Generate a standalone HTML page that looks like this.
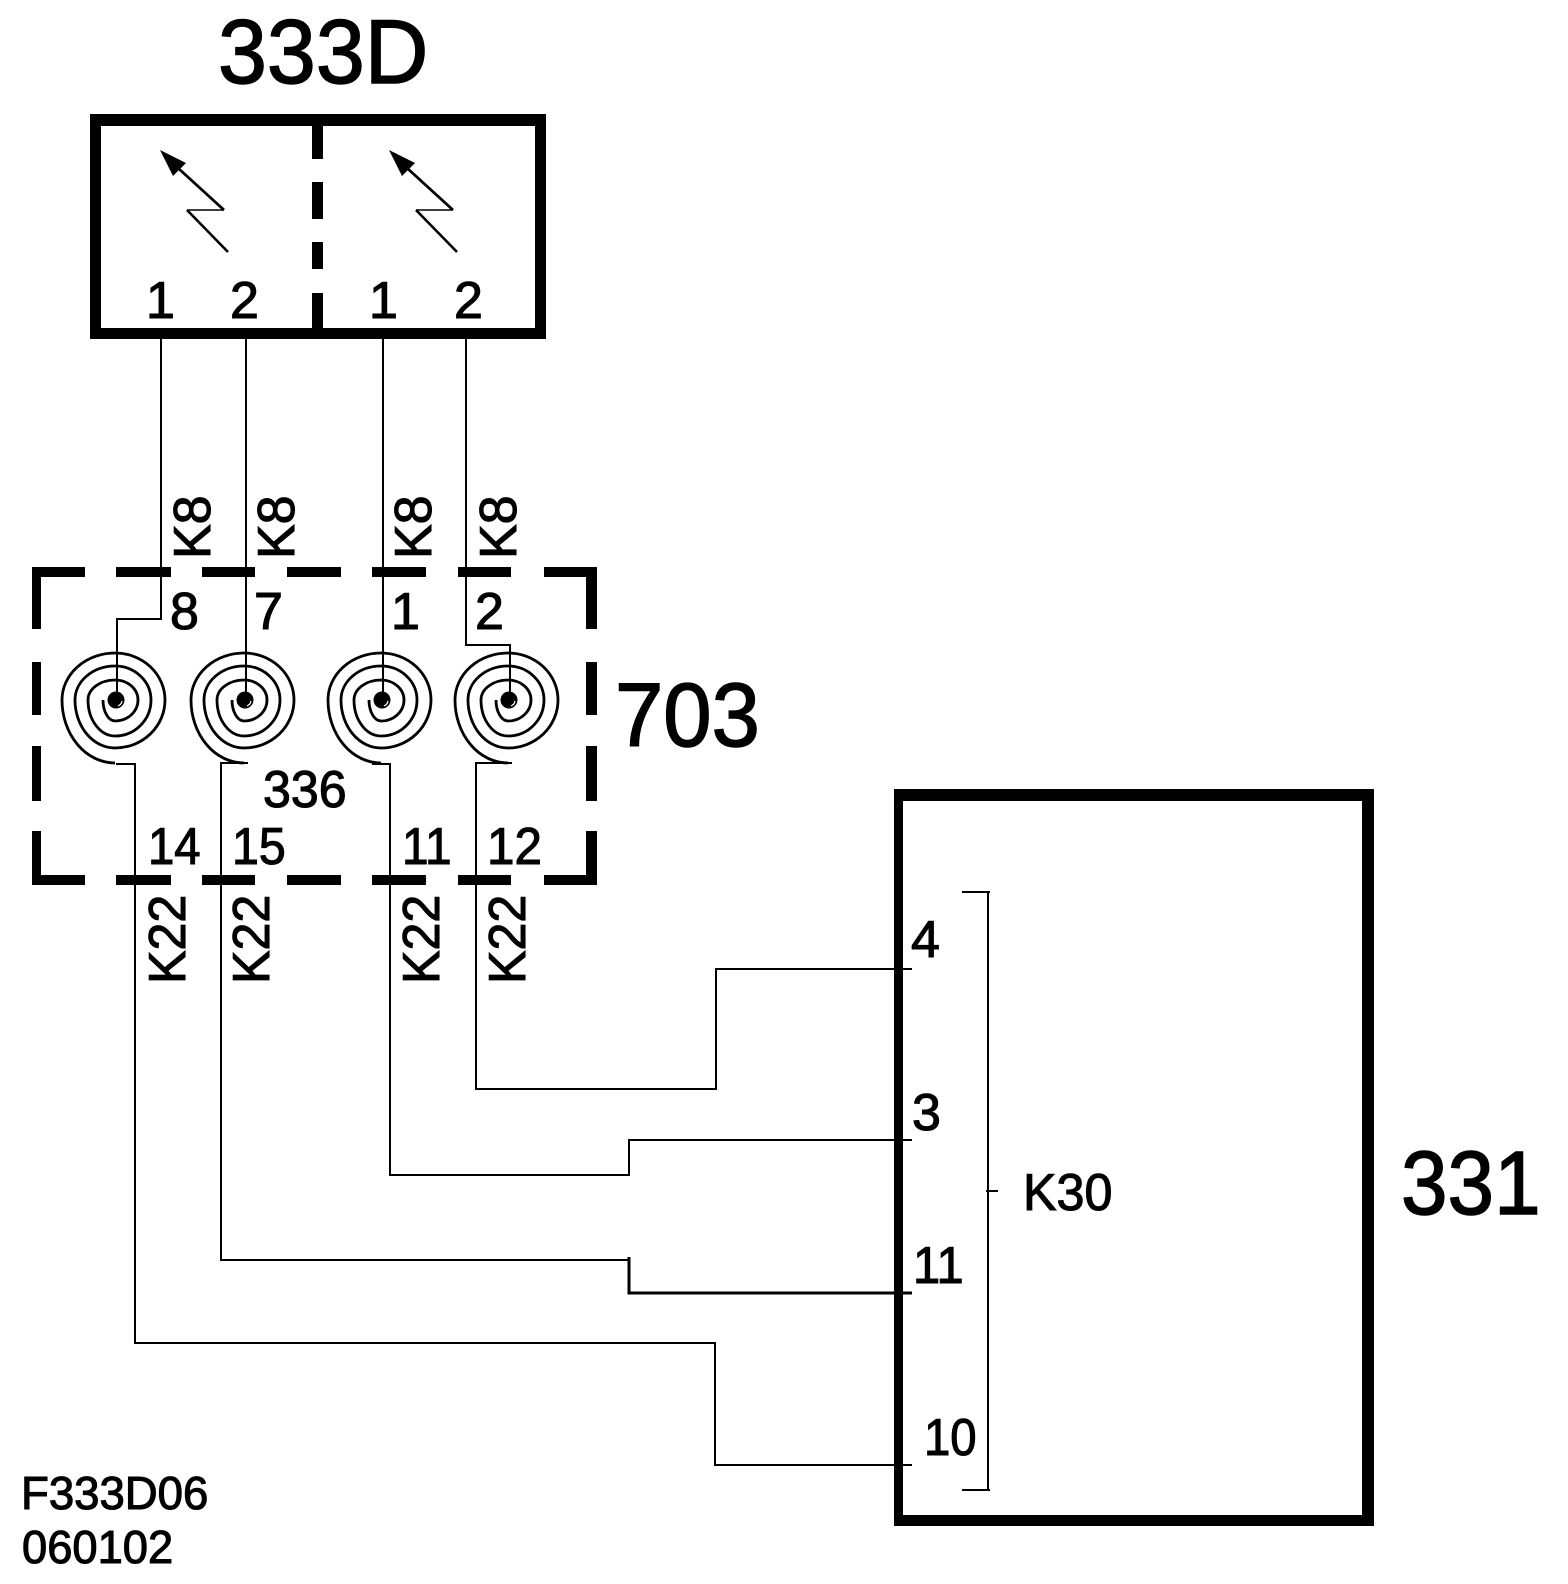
<!DOCTYPE html>
<html><head><meta charset="utf-8"><style>
html,body{margin:0;padding:0;background:#fff;width:1568px;height:1584px;overflow:hidden}
svg{display:block}
text{font-family:"Liberation Sans",sans-serif;fill:#000;stroke:#000;stroke-width:1.1}
.n{font-size:52px}
.b{font-size:90px;stroke-width:1.5}
.f{font-size:46px}
.w{fill:none;stroke:#000;stroke-width:2;shape-rendering:crispEdges}
.s{fill:none;stroke:#000;stroke-width:2.8}
</style></head><body>
<svg width="1568" height="1584" viewBox="0 0 1568 1584" xmlns="http://www.w3.org/2000/svg">
<defs>
<g id="sp">
<path class="s" transform="translate(-1 0)" d="M-12 0A12 21 0 0 0 0 21A23 21 0 0 0 23 0A23 20 0 0 0 0 -20A27 20 0 0 0 -27 0A27 36 0 0 0 0 36A36 36 0 0 0 36 0A36 34 0 0 0 0 -34A40 34 0 0 0 -40 0A40 48 0 0 0 0 48A50 48 0 0 0 50 0A50 47 0 0 0 0 -47A53 47 0 0 0 -53 0A53 63 0 0 0 0 63"/>
<circle cx="0" cy="0" r="8.5" fill="#000"/>
<path d="M2 6A6.500 6.500 0 0 0 6 1" fill="none" stroke="#fff" stroke-width="1.200"/>
</g>
<g id="ar">
<path d="M160 150L186 163L173 176Z" fill="#000"/>
<path d="M178 168L224 210" fill="none" stroke="#000" stroke-width="2.8"/>
<path d="M224 210H187" fill="none" stroke="#000" stroke-width="1.6"/>
<path d="M187 210L228 252" fill="none" stroke="#000" stroke-width="2.6"/>
</g>
</defs>

<!-- 333D box -->
<g fill="#000" shape-rendering="crispEdges">
<rect x="90" y="114" width="456" height="12"/>
<rect x="90" y="328" width="456" height="11"/>
<rect x="90" y="114" width="11" height="225"/>
<rect x="535" y="114" width="11" height="225"/>
<rect x="312" y="126" width="11" height="33"/>
<rect x="312" y="182" width="11" height="37"/>
<rect x="312" y="242" width="11" height="27"/>
<rect x="312" y="293" width="11" height="35"/>

<!-- 703 dashed box -->
<rect x="32" y="567" width="53" height="10"/><rect x="116" y="567" width="55" height="10"/><rect x="202" y="567" width="53" height="10"/><rect x="287" y="567" width="54" height="10"/><rect x="372" y="567" width="54" height="10"/><rect x="458" y="567" width="53" height="10"/><rect x="544" y="567" width="53" height="10"/>
<rect x="32" y="875" width="53" height="10"/><rect x="116" y="875" width="55" height="10"/><rect x="202" y="875" width="53" height="10"/><rect x="287" y="875" width="54" height="10"/><rect x="372" y="875" width="54" height="10"/><rect x="458" y="875" width="53" height="10"/><rect x="544" y="875" width="53" height="10"/>
<rect x="32" y="567" width="9" height="62"/><rect x="32" y="662" width="9" height="53"/><rect x="32" y="746" width="9" height="55"/><rect x="32" y="831" width="9" height="54"/>
<rect x="586" y="567" width="11" height="62"/><rect x="586" y="662" width="11" height="53"/><rect x="586" y="746" width="11" height="55"/><rect x="586" y="831" width="11" height="54"/>

<!-- 331 box -->
<rect x="894" y="789" width="480" height="12"/>
<rect x="894" y="1515" width="480" height="11"/>
<rect x="894" y="789" width="9" height="737"/>
<rect x="1362" y="789" width="12" height="737"/>
</g>

<use href="#ar"/>
<use href="#ar" x="229"/>

<!-- spirals -->
<use href="#sp" x="116" y="700"/>
<use href="#sp" x="245" y="700"/>
<use href="#sp" x="382" y="700"/>
<use href="#sp" x="509" y="700"/>

<!-- wires -->
<path class="w" d="M161 339V619H117V700"/>
<path class="w" d="M246 339V700"/>
<path class="w" d="M383 339V700"/>
<path class="w" d="M466 339V645H510V700"/>
<path class="w" d="M116 764H135V1343H715V1465H912"/>
<path class="w" d="M248 763H221V1260H629"/>
<path class="w" style="stroke-width:3" d="M629 1257V1293H912"/>
<path class="w" d="M372 764H390V1175H629V1140H912"/>
<path class="w" d="M512 763H476V1089H716V969H912"/>
<path class="w" d="M962 892H990M988 892V1490M962 1490H990M986 1191H998"/>

<!-- labels -->
<text class="b" transform="translate(218 83) scale(.967 1)" style="font-size:91px">333D</text>
<text class="b" transform="translate(615 746) scale(.965 1)">703</text>
<text class="b" transform="translate(1401 1214) scale(.93 1)">331</text>

<text class="n" x="146" y="318">1</text>
<text class="n" x="230" y="318">2</text>
<text class="n" x="369" y="318">1</text>
<text class="n" x="454" y="318">2</text>

<text class="n" x="170" y="629">8</text>
<text class="n" x="254" y="629">7</text>
<text class="n" x="391" y="629">1</text>
<text class="n" x="475" y="629">2</text>

<text class="n" transform="translate(263 807) scale(.965 1)">336</text>

<text class="n" transform="translate(148 864) scale(.91 1)">14</text>
<text class="n" transform="translate(232 864) scale(.93 1)">15</text>
<text class="n" transform="translate(402 864) scale(.92 1)">11</text>
<text class="n" transform="translate(487 864) scale(.95 1)">12</text>

<text class="n" x="911" y="957">4</text>
<text class="n" x="912" y="1130">3</text>
<text class="n" transform="translate(913 1283) scale(.94 1)">11</text>
<text class="n" transform="translate(924 1455) scale(.91 1)">10</text>
<text class="n" transform="translate(1023 1210) scale(.967 1)">K30</text>

<text class="n" transform="translate(210 559) rotate(-90)">K8</text>
<text class="n" transform="translate(294 559) rotate(-90)">K8</text>
<text class="n" transform="translate(431 559) rotate(-90)">K8</text>
<text class="n" transform="translate(516 559) rotate(-90)">K8</text>

<text class="n" transform="translate(185 984) rotate(-90) scale(.966 1)">K22</text>
<text class="n" transform="translate(269 984) rotate(-90) scale(.966 1)">K22</text>
<text class="n" transform="translate(439 984) rotate(-90) scale(.966 1)">K22</text>
<text class="n" transform="translate(525 984) rotate(-90) scale(.966 1)">K22</text>

<text class="f" transform="translate(21 1509) scale(.99 1)">F333D06</text>
<text class="f" transform="translate(22 1563) scale(.985 1)">060102</text>
</svg>
</body></html>
